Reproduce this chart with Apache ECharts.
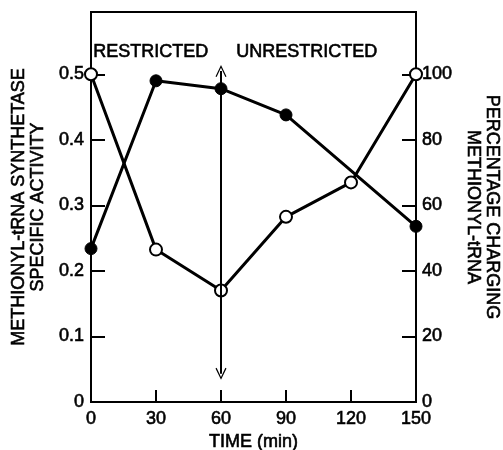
<!DOCTYPE html>
<html>
<head>
<meta charset="utf-8">
<script src="https://cdn.jsdelivr.net/npm/echarts@6/dist/echarts.min.js"></script>
<style>
  html, body { margin: 0; padding: 0; background: #fff; }
  #chart { width: 503px; height: 450px; }
</style>
</head>
<body>
<div id="chart"></div>
<script>
// time points (min)
const timeTicks = [0, 30, 60, 90, 120, 150];
// filled circles: synthetase specific activity (left axis)
const activityTime = [0, 30, 60, 90, 150];
const activityValues = [0.234, 0.49, 0.478, 0.438, 0.268];
// open circles: percentage charging (right axis)
const chargingTime = [0, 30, 60, 90, 120, 150];
const chargingValues = [100, 46.5, 34, 56.5, 67, 100];
// shift arrow at 60 min
const arrowTime = 60;
const arrowRange = [0.043, 0.505];

const font = "Liberation Sans";
// slight outline to thicken the strokes like the printed figure
const txt = { fontFamily: font, color: "#000", textBorderColor: "#000", textBorderWidth: 0.6 };
const chart = echarts.init(document.getElementById("chart"));

const chevron = "path://M0,10 L5,0 L10,10 L9,10.5 L5,2.5 L1,10.5 Z";

chart.setOption({
  animation: false,
  grid: {
    left: 91, right: 87, top: 12, bottom: 48,
    containLabel: false,
    outerBoundsMode: "none",
    show: true, borderColor: "#000", borderWidth: 2
  },
  xAxis: {
    type: "value",
    min: 0, max: 150, interval: 30,
    name: "TIME (min)",
    nameLocation: "middle",
    nameGap: 30,
    nameTextStyle: { ...txt, fontSize: 18 },
    axisLine: { lineStyle: { color: "#000", width: 2 } },
    axisTick: { inside: true, length: 12, lineStyle: { color: "#000", width: 2 } },
    axisLabel: { ...txt, margin: 8, fontSize: 18 },
    splitLine: { show: false }
  },
  yAxis: [
    {
      type: "value",
      min: 0, max: 0.595, interval: 0.1,
      name: "METHIONYL-tRNA SYNTHETASE\nSPECIFIC ACTIVITY",
      nameLocation: "middle",
      nameRotate: 90,
      nameGap: 43,
      nameTextStyle: { ...txt, fontSize: 18, lineHeight: 19 },
      axisLine: { show: true, lineStyle: { color: "#000", width: 2 } },
      axisTick: { show: true, inside: true, length: 14, lineStyle: { color: "#000", width: 2 } },
      axisLabel: {
        ...txt, margin: 7, fontSize: 18, showMaxLabel: false,
        formatter: v => (v === 0 ? "0" : v.toFixed(1))
      },
      splitLine: { show: false }
    },
    {
      type: "value",
      min: 0, max: 119, interval: 20,
      position: "right",
      name: "PERCENTAGE CHARGING\nMETHIONYL-tRNA",
      nameLocation: "middle",
      nameRotate: -90,
      nameGap: 42,
      nameTextStyle: { ...txt, fontSize: 18, lineHeight: 19 },
      axisLine: { show: true, lineStyle: { color: "#000", width: 2 } },
      axisTick: { show: true, inside: true, length: 14, lineStyle: { color: "#000", width: 2 } },
      axisLabel: { ...txt, margin: 6, fontSize: 18, showMaxLabel: false },
      splitLine: { show: false }
    }
  ],
  series: [
    {
      type: "line",
      yAxisIndex: 0,
      data: activityTime.map((t, i) => [t, activityValues[i]]),
      symbol: "circle",
      symbolSize: 12,
      lineStyle: { color: "#000", width: 3 },
      itemStyle: { color: "#000", borderColor: "#000" },
      z: 3,
      markLine: {
        silent: true,
        symbol: [chevron, chevron],
        symbolSize: [11, 12],
        label: { show: false },
        lineStyle: { color: "#000", width: 2, type: "solid" },
        data: [[
          { coord: [arrowTime, arrowRange[0]] },
          { coord: [arrowTime, arrowRange[1]] }
        ]]
      }
    },
    {
      type: "line",
      yAxisIndex: 1,
      data: chargingTime.map((t, i) => [t, chargingValues[i]]),
      symbol: "circle",
      symbolSize: 12,
      lineStyle: { color: "#000", width: 3 },
      itemStyle: { color: "#fff", borderColor: "#000", borderWidth: 2 },
      z: 4
    }
  ],
  graphic: [
    {
      type: "text", left: 93, top: 43,
      style: { text: "RESTRICTED", font: "18px " + font, fill: "#000", stroke: "#000", lineWidth: 0.6 }
    },
    {
      type: "text", left: 236, top: 43,
      style: { text: "UNRESTRICTED", font: "18px " + font, fill: "#000", stroke: "#000", lineWidth: 0.6 }
    }
  ]
});
</script>
</body>
</html>
